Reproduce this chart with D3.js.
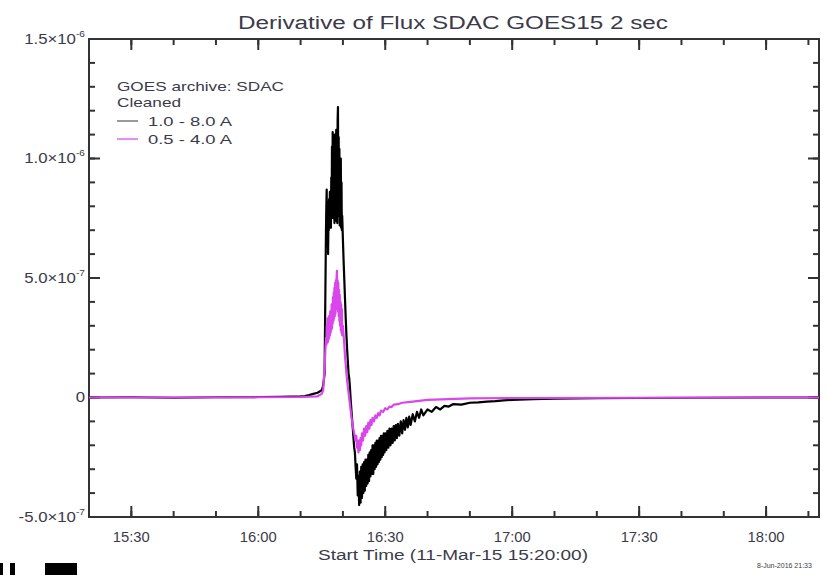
<!DOCTYPE html>
<html lang="en">
<head>
<meta charset="UTF-8">
<title>Derivative of Flux  SDAC GOES15 2 sec</title>
<script src="https://d3js.org/d3.v7.min.js"></script>
<style>
  body { margin: 0; background: #fff; }
  text { font-family: "Liberation Sans", Arial, sans-serif; fill: #3b3b4a; }
</style>
</head>
<body>
<script>
// ---- data (values in units of 1e-7 W m^-2 s^-1) ----
const SCALE = 1e-7;
const timeStart = "15:20:00";
const timeEnd = "18:12:30";
const xMajorLabels = ["15:30", "16:00", "16:30", "17:00", "17:30", "18:00"];
const yMajorTicks = [-5e-7, 0, 5e-7, 1e-6, 1.5e-6];

// 1.0 - 8.0 A channel
const longTimes = [
  "15:20:00","15:30:00","15:40:00","15:50:00","16:00:00","16:05:00","16:10:00","16:11:00","16:12:00","16:13:00",
  "16:14:00","16:14:30","16:15:00","16:15:20","16:15:40","16:15:50","16:16:00","16:16:05","16:16:10","16:16:15",
  "16:16:20","16:16:25","16:16:30","16:16:35","16:16:40","16:16:45","16:16:50","16:16:55","16:17:00","16:17:05",
  "16:17:10","16:17:15","16:17:20","16:17:25","16:17:30","16:17:35","16:17:40","16:17:45","16:17:50","16:17:55",
  "16:18:00","16:18:05","16:18:10","16:18:15","16:18:20","16:18:25","16:18:30","16:18:35","16:18:40","16:18:45",
  "16:18:50","16:18:55","16:19:00","16:19:05","16:19:10","16:19:15","16:19:20","16:19:25","16:19:30","16:19:35",
  "16:19:40","16:19:45","16:19:50","16:20:00","16:20:10","16:20:20","16:20:30","16:20:40","16:20:50","16:21:00",
  "16:21:10","16:21:20","16:21:30","16:21:40","16:21:50","16:22:00","16:22:10","16:22:20","16:22:30","16:22:40",
  "16:22:50","16:23:00","16:23:10","16:23:20","16:23:30","16:23:40","16:23:50","16:24:00","16:24:10","16:24:20",
  "16:24:30","16:24:40","16:24:50","16:25:00","16:25:10","16:25:20","16:25:30","16:25:40","16:25:50","16:26:00",
  "16:26:10","16:26:20","16:26:30","16:26:40","16:26:50","16:27:00","16:27:10","16:27:20","16:27:30","16:27:40",
  "16:27:50","16:28:00","16:28:10","16:28:20","16:28:30","16:28:40","16:28:50","16:29:00","16:29:10","16:29:20",
  "16:29:30","16:29:40","16:29:50","16:30:00","16:30:15","16:30:30","16:30:45","16:31:00","16:31:15","16:31:30",
  "16:31:45","16:32:00","16:32:15","16:32:30","16:32:45","16:33:00","16:33:20","16:33:40","16:34:00","16:34:20",
  "16:34:40","16:35:00","16:35:20","16:35:40","16:36:00","16:36:30","16:37:00","16:37:30","16:38:00","16:38:30",
  "16:39:00","16:40:00","16:41:00","16:42:00","16:43:00","16:44:00","16:45:00","16:46:00","16:48:00","16:50:00",
  "16:52:00","16:54:00","16:56:00","16:58:00","17:00:00","17:05:00","17:10:00","17:20:00","17:30:00","17:45:00",
  "18:00:00","18:12:30"
];
const longValues = [
  0.0, 0.01, -0.01, 0.01, 0.02, 0.03, 0.05, 0.06, 0.1, 0.15,
  0.2, 0.25, 0.3, 0.5, 1.0, 4.0, 7.0, 8.0, 8.7, 6.4,
  6.8, 8.2, 6.0, 7.4, 7.0, 8.3, 7.2, 8.6, 7.4, 8.0,
  7.1, 9.2, 7.6, 10.5, 8.0, 11.1, 7.5, 10.2, 8.4, 10.9,
  7.3, 11.0, 8.6, 10.6, 7.4, 11.2, 8.2, 10.4, 7.3, 11.6,
  12.15, 7.6, 10.9, 7.9, 10.4, 7.2, 9.6, 7.5, 10.0, 7.1,
  9.0, 7.0, 7.6, 6.6, 5.7, 4.9, 4.1, 3.3, 2.6, 2.0,
  1.5, 1.0, 0.8, 0.4, -0.1, -0.5, -0.9, -1.3, -1.7, -2.1,
  -2.3, -2.9, -3.4, -2.8, -4.1, -3.3, -4.5, -3.1, -4.4, -2.9,
  -4.2, -2.8, -4.0, -2.7, -3.9, -2.6, -3.7, -2.6, -3.6, -2.4,
  -3.5, -2.3, -3.3, -2.2, -3.2, -2.0, -3.2, -2.0, -3.0, -1.9,
  -2.9, -1.8, -2.8, -1.8, -2.7, -1.7, -2.6, -1.6, -2.5, -1.6,
  -2.4, -1.5, -2.3, -1.5, -2.2, -1.4, -2.1, -1.3, -2.0, -1.3,
  -1.9, -1.2, -1.8, -1.15, -1.7, -1.1, -1.6, -1.0, -1.5, -0.95,
  -1.35, -0.85, -1.25, -0.8, -1.15, -0.7, -1.0, -0.6, -0.85, -0.5,
  -0.75, -0.5, -0.6, -0.4, -0.5, -0.35, -0.38, -0.28, -0.3, -0.22,
  -0.2, -0.17, -0.15, -0.12, -0.1, -0.07, -0.05, -0.03, -0.02, -0.01,
  0.0, 0.0
];

// 0.5 - 4.0 A channel
const shortTimes = [
  "15:20:00","15:40:00","16:00:00","16:10:00","16:14:00","16:15:00","16:15:20","16:15:40","16:15:50","16:16:00",
  "16:16:05","16:16:10","16:16:15","16:16:20","16:16:25","16:16:30","16:16:35","16:16:40","16:16:45","16:16:50",
  "16:16:55","16:17:00","16:17:05","16:17:10","16:17:15","16:17:20","16:17:25","16:17:30","16:17:35","16:17:40",
  "16:17:45","16:17:50","16:17:55","16:18:00","16:18:05","16:18:10","16:18:15","16:18:20","16:18:25","16:18:30",
  "16:18:35","16:18:40","16:18:45","16:18:50","16:18:55","16:19:00","16:19:05","16:19:10","16:19:15","16:19:20",
  "16:19:25","16:19:30","16:19:35","16:19:40","16:19:45","16:19:50","16:20:00","16:20:10","16:20:20","16:20:30",
  "16:20:40","16:20:50","16:21:00","16:21:20","16:21:40","16:22:00","16:22:20","16:22:40","16:23:00","16:23:10",
  "16:23:20","16:23:30","16:23:40","16:23:50","16:24:00","16:24:10","16:24:20","16:24:30","16:24:45","16:25:00",
  "16:25:15","16:25:30","16:25:45","16:26:00","16:26:15","16:26:30","16:26:45","16:27:00","16:27:20","16:27:40",
  "16:28:00","16:28:20","16:28:40","16:29:00","16:29:30","16:30:00","16:30:30","16:31:00","16:31:30","16:32:00",
  "16:33:00","16:34:00","16:36:00","16:38:00","16:40:00","16:45:00","16:50:00","17:00:00","17:30:00","18:00:00",
  "18:12:30"
];
const shortValues = [
  0.0, 0.0, 0.01, 0.02, 0.05, 0.15, 0.3, 1.2, 1.9, 2.5,
  2.2, 3.0, 2.5, 3.3, 2.3, 3.1, 2.4, 3.4, 2.5, 3.3,
  2.6, 3.6, 2.7, 3.5, 2.8, 3.9, 2.9, 3.7, 3.1, 4.2,
  3.2, 4.4, 3.3, 4.6, 3.4, 4.8, 3.5, 4.9, 3.7, 5.0,
  5.3, 3.8, 4.9, 3.6, 4.8, 3.4, 4.5, 3.2, 4.3, 3.0,
  4.0, 2.8, 3.9, 2.7, 3.7, 2.6, 3.0, 2.6, 2.2, 1.7,
  1.4, 1.0, 0.7, 0.2, -0.3, -0.8, -1.2, -1.5, -1.8, -1.6,
  -2.1, -1.8, -2.3, -1.8, -2.2, -1.7, -2.0, -1.5, -1.8, -1.3,
  -1.6, -1.2, -1.45, -1.05, -1.3, -0.95, -1.15, -0.85, -1.0, -0.75,
  -0.85, -0.65, -0.75, -0.55, -0.6, -0.45, -0.5, -0.38, -0.4, -0.3,
  -0.28, -0.22, -0.18, -0.14, -0.1, -0.07, -0.04, -0.02, -0.01, 0.0,
  0.0
];

// ---- layout ----
const W = 827, H = 575;
const plot = {left: 89, right: 819, top: 39, bottom: 517};
const parseT = d3.timeParse("%H:%M:%S");

const svg = d3.select("body").append("svg")
  .attr("width", W).attr("height", H);

const x = d3.scaleTime()
  .domain([parseT(timeStart), parseT(timeEnd)])
  .range([plot.left, plot.right]);

const y = d3.scaleLinear()
  .domain([-5e-7, 1.5e-6])
  .range([plot.bottom, plot.top]);

// tick positions
const xMajor = xMajorLabels.map(s => parseT(s + ":00"));
const xMinor = d3.timeMinute.every(10).range(parseT(timeStart), parseT(timeEnd));
const yMinor = d3.range(-5, 16).map(k => k * 1e-7);

const axisColor = "#333";

// frame
svg.append("rect")
  .attr("x", plot.left).attr("y", plot.top)
  .attr("width", plot.right - plot.left).attr("height", plot.bottom - plot.top)
  .attr("fill", "none").style("fill", "none")
  .attr("stroke", axisColor).attr("stroke-width", 2);

// inward ticks on all four sides of the box
const ticks = svg.append("g");
function xTicks(vals, len) {
  [[plot.bottom, -1], [plot.top, 1]].forEach(([y0, dir]) => {
    ticks.selectAll(null).data(vals).enter().append("line")
      .attr("x1", d => x(d)).attr("x2", d => x(d))
      .attr("y1", y0).attr("y2", y0 + dir * len)
      .attr("stroke", axisColor).attr("stroke-width", 2);
  });
}
function yTicks(vals, len) {
  [[plot.left, 1], [plot.right, -1]].forEach(([x0, dir]) => {
    ticks.selectAll(null).data(vals).enter().append("line")
      .attr("y1", d => y(d)).attr("y2", d => y(d))
      .attr("x1", x0).attr("x2", x0 + dir * len)
      .attr("stroke", axisColor).attr("stroke-width", 2);
  });
}
xTicks(xMinor, 6);
xTicks(xMajor, 11);
yTicks(yMinor, 6);
yTicks(yMajorTicks, 11);

// x tick labels
svg.selectAll(".xlab").data(xMajorLabels).enter().append("text")
  .attr("class", "xlab")
  .attr("x", d => x(parseT(d + ":00")))
  .attr("y", plot.bottom + 25)
  .attr("text-anchor", "middle")
  .attr("font-size", 14)
  .attr("textLength", 37).attr("lengthAdjust", "spacingAndGlyphs")
  .text(d => d);

// y tick labels with superscript exponent, right edge at x = 85
svg.selectAll(".ylab").data(yMajorTicks).enter().append("text")
  .attr("class", "ylab")
  .attr("y", d => y(d) + 5)
  .attr("font-size", 15)
  .each(function(d) {
    const t = d3.select(this);
    if (d === 0) { t.text("0"); }
    else {
      const [m, e] = d.toExponential(1).split("e");
      t.append("tspan").text(m + "\u00d710");
      t.append("tspan").attr("dy", -7).attr("font-size", 9).text(String(+e));
    }
    t.attr("x", 85 - this.getComputedTextLength())
      .attr("transform", "translate(85,0) scale(1.12,1) translate(-85,0)");
  });

// data lines
const line = d3.line()
  .x(d => x(parseT(d[0])))
  .y(d => y(d[1] * SCALE));

const longData = d3.zip(longTimes, longValues);
const shortData = d3.zip(shortTimes, shortValues);

svg.append("path").datum(longData)
  .attr("d", line)
  .attr("fill", "none").attr("stroke", "#000").attr("stroke-width", 2.2)
  .attr("stroke-linejoin", "round");

svg.append("path").datum(shortData)
  .attr("d", line)
  .attr("fill", "none").attr("stroke", "#da46ec").attr("stroke-width", 2.2)
  .attr("stroke-linejoin", "round");

// title
svg.append("text")
  .attr("x", 453).attr("y", 29)
  .attr("text-anchor", "middle")
  .attr("font-size", 18)
  .attr("textLength", 430).attr("lengthAdjust", "spacingAndGlyphs")
  .text("Derivative of Flux  SDAC GOES15 2 sec");

// x axis title
svg.append("text")
  .attr("x", 453).attr("y", 560)
  .attr("text-anchor", "middle")
  .attr("font-size", 14)
  .attr("textLength", 270).attr("lengthAdjust", "spacingAndGlyphs")
  .text("Start Time (11-Mar-15 15:20:00)");

// legend
const legend = svg.append("g");
legend.append("text").attr("x", 117).attr("y", 91).attr("font-size", 13)
  .attr("textLength", 167).attr("lengthAdjust", "spacingAndGlyphs")
  .text("GOES archive: SDAC");
legend.append("text").attr("x", 117).attr("y", 107).attr("font-size", 13)
  .attr("textLength", 64).attr("lengthAdjust", "spacingAndGlyphs")
  .text("Cleaned");
const legendItems = [
  {label: "1.0 - 8.0 A", color: "#9a9a9a", y: 121},
  {label: "0.5 - 4.0 A", color: "#e68cf2", y: 139}
];
legendItems.forEach(it => {
  legend.append("line")
    .attr("x1", 117).attr("x2", 138).attr("y1", it.y).attr("y2", it.y)
    .attr("stroke", it.color).attr("stroke-width", 2);
  legend.append("text").attr("x", 148).attr("y", it.y + 5).attr("font-size", 13)
    .attr("textLength", 84).attr("lengthAdjust", "spacingAndGlyphs")
    .text(it.label);
});

// date stamp (bottom right, cut off)
svg.append("text")
  .attr("x", 757).attr("y", 568)
  .attr("font-size", 7)
  .text("8-Jun-2016 21:33");

// cut-off fragments at bottom left
[[0, 3], [10, 5], [45, 32]].forEach(([rx, rw]) => {
  svg.append("rect").attr("x", rx).attr("y", 563).attr("width", rw).attr("height", 12).attr("fill", "#000");
});
</script>
</body>
</html>
